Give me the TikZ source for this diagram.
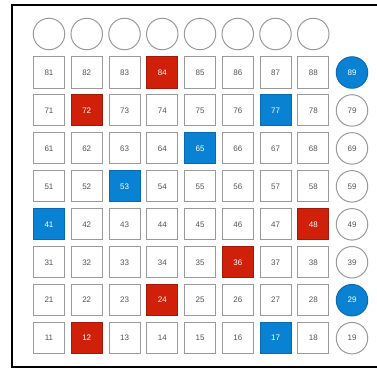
\documentclass[tikz,border=0pt]{standalone}
\usepackage{fontspec}
\setmainfont{Liberation Sans}
\definecolor{padgrey}{HTML}{9A9A9A}
\definecolor{padtext}{HTML}{555555}
\definecolor{padred}{HTML}{D0200A}
\definecolor{padredline}{HTML}{9E1A0A}
\definecolor{padblue}{HTML}{0A82D4}
\definecolor{padblueline}{HTML}{0A6AB0}

\tikzset{
  pad/.style={draw=padgrey, line width=1pt, fill=white, minimum size=31pt, inner sep=0pt,
    text=padtext, font=\fontsize{8}{9}\selectfont},
  btn/.style={circle, draw=padgrey, line width=1pt, fill=white, minimum size=31.5pt, inner sep=0pt,
    text=padtext, font=\fontsize{8}{9}\selectfont},
  hotred/.style={fill=padred, draw=padredline, text=white},
  hotblue/.style={fill=padblue, draw=padblueline, text=white},
  % lit pads
  cell84/.style=hotred, cell72/.style=hotred, cell48/.style=hotred,
  cell36/.style=hotred, cell24/.style=hotred, cell12/.style=hotred,
  cell77/.style=hotblue, cell65/.style=hotblue, cell53/.style=hotblue,
  cell41/.style=hotblue, cell17/.style=hotblue,
  cell89/.style=hotblue, cell29/.style=hotblue
}

\begin{document}
\begin{tikzpicture}[x=1pt,y=-1pt]
  \useasboundingbox (0,0) rectangle (377,369);
  % outer frame, right side runs off the picture
  \draw [line width=2pt,black] (390,5) -- (12,5) -- (12,366.5) -- (390,366.5);

  % top row of round buttons
  \foreach \c in {1,...,8}
    \node[btn] (top\c) at ({49+(\c-1)*37.75},34) {};

  % 8x8 pads
  \foreach \r in {1,...,8}
    \foreach \c in {1,...,8}
      \node[pad, cell\r\c/.try] (n\r\c) at ({49+(\c-1)*37.75},{72.5+(8-\r)*37.95}) {\r\c};

  % right column of round buttons
  \foreach \r in {1,...,8}
    \node[btn, cell\r9/.try] (n\r9) at (352,{72.5+(8-\r)*37.95}) {\r9};
\end{tikzpicture}
\end{document}
